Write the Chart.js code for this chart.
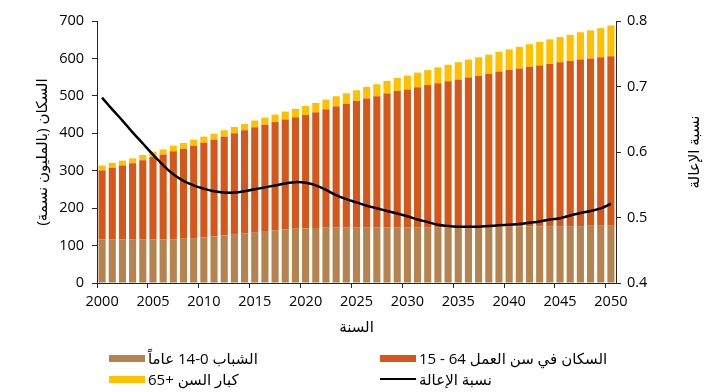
<!DOCTYPE html>
<html lang="ar">
<head>
<meta charset="utf-8">
<title>السكان ونسبة الإعالة</title>
<script src="https://cdn.jsdelivr.net/npm/chart.js@4.4.1/dist/chart.umd.min.js"></script>
<style>
  html, body { margin: 0; padding: 0; background: #fff; }
  #wrap { position: relative; width: 715px; height: 392px; }
  .legend-item {
    position: absolute;
    display: flex;
    align-items: center;
    font: 15px 'Open Sans', 'DejaVu Sans', sans-serif;
    color: #000;
    white-space: nowrap;
    height: 20px;
  }
  .legend-item .swatch { width: 36px; height: 7px; margin-right: 3px; }
  .legend-item .swatch.line { height: 2px; background: #000; }
  .legend-item span { unicode-bidi: isolate; }
</style>
</head>
<body>
<div id="wrap">
  <canvas id="popChart" width="715" height="392" dir="rtl"></canvas>
  <div class="legend-item" style="left:109px; top:348px;">
    <div class="swatch" style="background:#B5834F"></div><span dir="rtl">الشباب 0&#x200F;-14 عاماً</span>
  </div>
  <div class="legend-item" style="left:380px; top:348px;">
    <div class="swatch" style="background:#D4571B"></div><span dir="rtl">السكان في سن العمل 64 - 15</span>
  </div>
  <div class="legend-item" style="left:109px; top:369px;">
    <div class="swatch" style="background:#FFC000"></div><span dir="rtl">كبار السن  +65</span>
  </div>
  <div class="legend-item" style="left:380px; top:369px;">
    <div class="swatch line"></div><span dir="rtl">نسبة الإعالة</span>
  </div>
</div>

<script>
// Years on the category axis
const years = [
  '2000', '2001', '2002', '2003', '2004', '2005', '2006', '2007', '2008', '2009',
  '2010', '2011', '2012', '2013', '2014', '2015', '2016', '2017', '2018', '2019',
  '2020', '2021', '2022', '2023', '2024', '2025', '2026', '2027', '2028', '2029',
  '2030', '2031', '2032', '2033', '2034', '2035', '2036', '2037', '2038', '2039',
  '2040', '2041', '2042', '2043', '2044', '2045', '2046', '2047', '2048', '2049',
  '2050'
];

// Population, millions
const youth = [
  116, 116, 116, 116, 116, 116, 116, 117, 118, 120,
  122, 124, 127, 129, 133, 136, 139, 141, 143, 145,
  146, 147, 148, 148, 149, 149, 149, 149, 149, 149,
  149, 149, 149, 149, 149, 149, 150, 150, 150, 150,
  150, 151, 151, 151, 152, 152, 152, 152, 153, 153,
  153
];
const workingAge = [
  185, 192, 198, 204, 212, 221, 227, 235, 241, 247,
  253, 259, 264, 271, 275, 280, 284, 289, 294, 298,
  303, 309, 316, 324, 330, 337, 344, 350, 357, 364,
  368, 374, 380, 385, 390, 395, 399, 404, 409, 415,
  419, 422, 427, 430, 434, 438, 441, 445, 447, 450,
  453
];
const elderly = [
  13, 13, 13, 13, 14, 14, 14, 15, 15, 16,
  16, 16, 17, 17, 17, 18, 19, 20, 21, 22,
  24, 25, 26, 27, 28, 29, 31, 32, 34, 35,
  37, 39, 40, 42, 44, 46, 48, 49, 51, 53,
  55, 58, 60, 63, 65, 67, 70, 73, 75, 78,
  82
];

// Dependency ratio (right axis)
const dependencyRatio = [
  0.683, 0.665, 0.648, 0.630, 0.613, 0.596, 0.580, 0.566, 0.556, 0.549,
  0.544, 0.540, 0.538, 0.538, 0.540, 0.543, 0.546, 0.549, 0.552, 0.554,
  0.553, 0.549, 0.542, 0.534, 0.528, 0.523, 0.518, 0.514, 0.510, 0.506,
  0.502, 0.497, 0.493, 0.489, 0.487, 0.486, 0.486, 0.486, 0.487, 0.488,
  0.489, 0.490, 0.492, 0.494, 0.497, 0.499, 0.503, 0.507, 0.510, 0.514,
  0.521
];

const FONT = "'Open Sans', 'DejaVu Sans', sans-serif";
const AXIS_COLOR = '#262626';

// Right axis title reads bottom-to-top like the left one
const rightTitle = {
  id: 'rightTitle',
  afterDraw(chart) {
    const ctx = chart.ctx;
    const area = chart.chartArea;
    ctx.save();
    ctx.translate(chart.scales.y1.right - 20, (area.top + area.bottom) / 2);
    ctx.rotate(-Math.PI / 2);
    ctx.font = '15px ' + FONT;
    ctx.fillStyle = '#000';
    ctx.textAlign = 'center';
    ctx.textBaseline = 'middle';
    ctx.direction = 'rtl';
    ctx.fillText('نسبة الإعالة', 0, 0);
    ctx.restore();
  }
};

new Chart(document.getElementById('popChart'), {
  type: 'bar',
  data: {
    labels: years,
    datasets: [
      {
        type: 'line',
        label: 'نسبة الإعالة',
        data: dependencyRatio,
        yAxisID: 'y1',
        borderColor: '#000',
        borderWidth: 2.5,
        pointRadius: 0,
        tension: 0.4,
        fill: false,
        order: 0
      },
      {
        label: 'الشباب 0-14 عاماً',
        data: youth,
        backgroundColor: '#B5834F',
        yAxisID: 'y',
        order: 1
      },
      {
        label: 'السكان في سن العمل 64 - 15',
        data: workingAge,
        backgroundColor: '#D4571B',
        yAxisID: 'y',
        order: 1
      },
      {
        label: 'كبار السن +65',
        data: elderly,
        backgroundColor: '#FFC000',
        yAxisID: 'y',
        order: 1
      }
    ]
  },
  options: {
    responsive: false,
    animation: false,
    datasets: {
      bar: { categoryPercentage: 1, barPercentage: 0.7 }
    },
    layout: { padding: { top: 21, left: 0, right: 0, bottom: 0 } },
    plugins: {
      legend: { display: false },
      tooltip: { enabled: false }
    },
    scales: {
      x: {
        stacked: true,
        offset: true,
        afterFit: s => { s.height = 109; },
        grid: {
          offset: true,
          drawOnChartArea: false,
          drawTicks: true,
          tickLength: 5,
          color: ctx => (ctx.index % 5 === 0 ? AXIS_COLOR : 'rgba(0,0,0,0)')
        },
        border: { color: AXIS_COLOR, width: 1 },
        ticks: {
          autoSkip: false,
          maxRotation: 0,
          padding: 5,
          color: '#000',
          font: { family: FONT, size: 14.5 },
          callback: function(val, index) {
            return index % 5 === 0 ? this.getLabelForValue(val) : '';
          }
        },
        title: {
          display: true,
          text: 'السنة',
          color: '#000',
          font: { family: FONT, size: 15 },
          padding: { top: 0, bottom: 55 }
        }
      },
      y: {
        stacked: true,
        position: 'left',
        min: 0,
        max: 700,
        afterFit: s => { s.width = 97; },
        grid: {
          drawOnChartArea: false,
          drawTicks: true,
          tickLength: 5,
          color: AXIS_COLOR
        },
        border: { color: AXIS_COLOR, width: 1 },
        ticks: {
          stepSize: 100,
          padding: 8,
          color: '#000',
          font: { family: FONT, size: 14.5 }
        },
        title: {
          display: true,
          text: 'السكان (بالمليون نسمة)',
          color: '#000',
          font: { family: FONT, size: 15 },
          padding: { top: 34, bottom: 0 }
        }
      },
      y1: {
        position: 'right',
        min: 0.4,
        max: 0.8,
        afterFit: s => { s.width = 99; },
        grid: {
          drawOnChartArea: false,
          drawTicks: true,
          tickLength: 5,
          color: AXIS_COLOR
        },
        border: { color: AXIS_COLOR, width: 1 },
        ticks: {
          stepSize: 0.1,
          padding: 6,
          color: '#000',
          font: { family: FONT, size: 14.5 },
          callback: v => v.toFixed(1)
        }
      }
    }
  },
  plugins: [rightTitle]
});
</script>
</body>
</html>
